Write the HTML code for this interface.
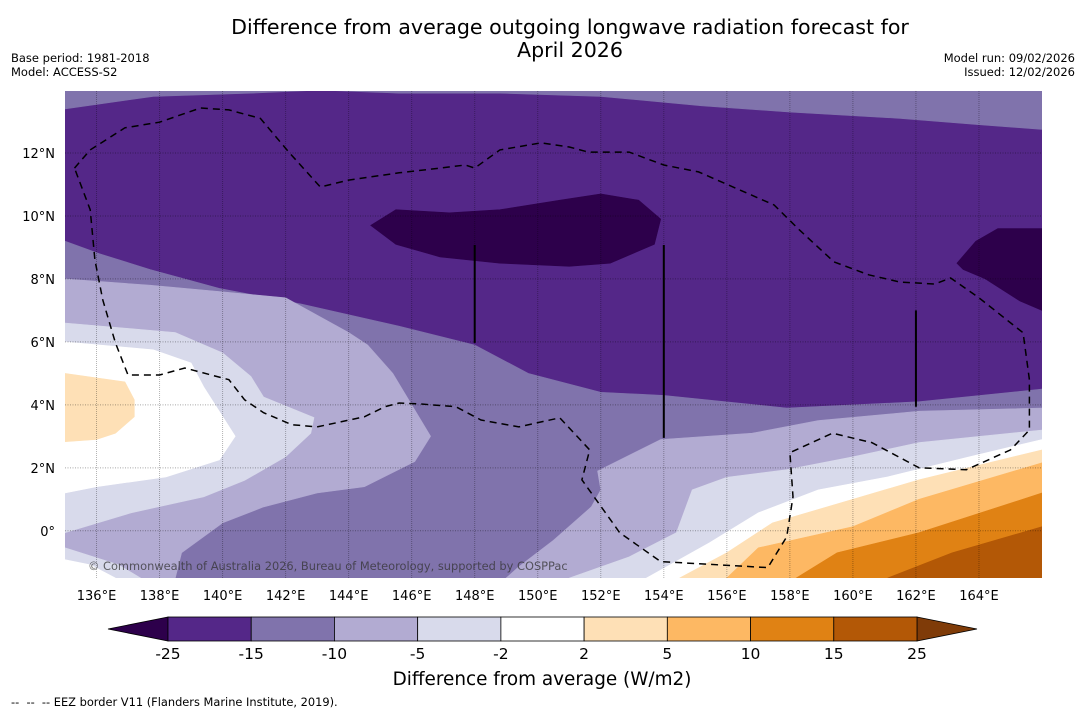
<!DOCTYPE html>
<html><head><meta charset="utf-8">
<style>
html,body{margin:0;padding:0;background:#fff;}
svg{display:block;font-family:"DejaVu Sans","Liberation Sans",sans-serif;}
</style></head>
<body>
<svg id="chart" width="1085" height="713" viewBox="0 0 1085 713" xmlns="http://www.w3.org/2000/svg">
<text x="570" y="34" font-size="20.6" text-anchor="middle" fill="#000">Difference from average outgoing longwave radiation forecast for</text>
<text x="570" y="57" font-size="20.6" text-anchor="middle" fill="#000">April 2026</text>
<text x="11" y="62" font-size="11.5">Base period: 1981-2018</text>
<text x="11" y="76" font-size="11.5">Model: ACCESS-S2</text>
<text x="1075" y="62" font-size="11.5" text-anchor="end">Model run: 09/02/2026</text>
<text x="1075" y="76" font-size="11.5" text-anchor="end">Issued: 12/02/2026</text>
<defs><clipPath id="plotclip"><rect x="65" y="91" width="977" height="487"/></clipPath></defs>
<g id="plot" clip-path="url(#plotclip)"></g>
<g id="axes"></g>
<g id="cbar"></g>
<text x="542" y="685" font-size="18.4" text-anchor="middle">Difference from average (W/m2)</text>
<text x="11" y="706" font-size="11.4" xml:space="preserve">--  --  -- EEZ border V11 (Flanders Marine Institute, 2019).</text>
</svg>
<script>
const lonMin=135, lonMax=166, latMin=-1.5, latMax=13.97;
const lonTicks=[136,138,140,142,144,146,148,150,152,154,156,158,160,162,164];
const latTicks=[0,2,4,6,8,10,12];
const levels=[-25,-15,-10,-5,-2,2,5,10,15,25];
const levelColors=["#542788","#8073ac","#b2abd2","#d8daeb","#ffffff","#fee0b6","#fdb863","#e08214","#b35806"];
const underColor="#2d004b", overColor="#7f3b08";

const topBand=[[135,14],[166,14],[166,12.75],[164,12.9],[161.5,13.1],[158,13.3],[155.2,13.5],[152,13.8],[148.8,13.9],[145.6,13.9],[143.1,14.0],[140.9,13.9],[137.8,13.8],[135,13.4]];
const blobCentre=[[144.7,9.7],[145.5,10.2],[147.2,10.1],[148.8,10.2],[150.7,10.5],[152,10.7],[153.2,10.5],[153.9,9.9],[153.7,9.1],[152.3,8.5],[151,8.4],[148.8,8.5],[146.9,8.7],[145.5,9.1]];
const blobEast=[[163.3,8.5],[163.9,9.2],[164.6,9.6],[166,9.6],[166,7],[165.3,7.3],[164.2,8],[163.5,8.3]];
const band15=[[135,9.2],[136.1,8.8],[137.7,8.3],[139.9,7.7],[142.5,7.2],[145.6,6.5],[148,5.9],[149.7,5],[152,4.4],[154,4.3],[157.9,3.9],[162.1,4.1],[166,4.5],[166,-1.5],[135,-1.5]];
const band10W=[[135,8],[137.7,7.8],[139.9,7.6],[142,7.4],[144,6.3],[144.6,5.9],[145.4,5],[146.6,3],[146.1,2.2],[144.5,1.4],[143,1.2],[141.3,0.76],[140,0.25],[138.7,-0.7],[138.5,-1.5],[135,-1.5]];
const band10E=[[149,-1.5],[149.4,-1.14],[150.5,-0.3],[151.7,0.76],[152,1.3],[151.9,1.9],[153.9,2.9],[156.8,3.1],[158.9,3.5],[162.1,3.8],[166,3.9],[166,-1.5]];
const band5W=[[135,6.6],[138.5,6.3],[140,5.65],[140.9,4.9],[141.3,4.25],[142.9,3.6],[142.8,3.1],[142,2.35],[140.7,1.6],[139.4,1.08],[137.1,0.57],[135.3,0.03],[135,-0.06]];
const band5SW=[[135,-0.54],[136.7,-1.08],[137.4,-1.5],[135,-1.5]];
const band5E=[[151,-1.5],[152.9,-0.83],[154.4,-0.06],[154.9,1.3],[156,1.7],[157.9,1.94],[160,2.35],[162.1,2.8],[166,3.2],[166,-1.5]];
const neutralW=[[135,6],[137.8,5.75],[139,5.33],[139.4,4.57],[140.4,3],[139.9,2.25],[138.2,1.71],[136,1.4],[135,1.2]];
const neutralSW=[[135,-0.92],[135.8,-1.08],[136.6,-1.5],[135,-1.5]];
const neutralE=[[153.45,-1.5],[155.45,-0.38],[157,0.57],[158.9,1.3],[161.1,1.71],[163.7,2.35],[166,2.9],[166,-1.5]];
const pos2W=[[135,5],[136.9,4.73],[137.2,4.16],[137.2,3.62],[136.6,3.1],[136,2.9],[135,2.83]];
const pos2E=[[154.5,-1.5],[156,-0.7],[157.45,0.25],[160,1],[162.1,1.62],[166,2.57],[166,-1.5]];
const pos5E=[[156,-1.5],[157,-0.54],[160,0.13],[162.1,1],[166,2.16],[166,-1.5]];
const pos10E=[[158.2,-1.5],[159.5,-0.7],[162.1,-0.06],[166,1.2],[166,-1.5]];
const pos15E=[[161.1,-1.5],[163.15,-0.7],[166,0.13],[166,-1.5]];
const eez=[[135.3,11.52],[135.8,12.1],[136.9,12.8],[138,12.98],[139.3,13.43],[140.2,13.37],[141.2,13.1],[142.1,12.03],[143.1,10.92],[144,11.14],[145.6,11.37],[146.9,11.52],[147.7,11.62],[148,11.52],[148.8,12.1],[150.1,12.32],[151,12.19],[151.6,12.03],[152.9,12.03],[154,11.62],[155.1,11.4],[156.4,10.83],[157.5,10.35],[158.3,9.56],[159.4,8.54],[160.5,8.13],[161.5,7.9],[162.6,7.84],[163.1,8.03],[164,7.4],[165.4,6.29],[165.6,4.8],[165.6,3.2],[165,2.57],[163.6,1.94],[162.1,2],[160.6,2.8],[159.35,3.1],[158,2.48],[158.1,1.08],[157.9,-0.19],[157.3,-1.17],[153.9,-0.98],[152.6,-0.06],[151.4,1.62],[151.65,2.57],[150.7,3.59],[149.4,3.3],[148.2,3.52],[147.4,3.94],[146.25,4.03],[145.6,4.06],[145.15,3.94],[144.5,3.62],[143,3.3],[142.2,3.37],[141.3,3.75],[140.7,4.16],[140.2,4.8],[138.8,5.17],[138,4.95],[137,4.95],[136.6,5.97],[136.2,7.33],[135.95,8.6],[135.8,10.2],[135.3,11.52]];
const borderLines=[[[148,9.08],[148,5.97]],[[154,9.08],[154,2.95]],[[162,7.0],[162,3.94]]];

const NS="http://www.w3.org/2000/svg";
const X0=65,X1=1042,Y0=91,Y1=578;
function xs(lon){return X0+(lon-lonMin)/(lonMax-lonMin)*(X1-X0);}
function ys(lat){return Y1-(lat-latMin)/(latMax-latMin)*(Y1-Y0);}
function mk(tag,attrs,parent){const e=document.createElementNS(NS,tag);for(const k in attrs)e.setAttribute(k,attrs[k]);parent.appendChild(e);return e;}
function pts(arr){return arr.map(p=>xs(p[0]).toFixed(1)+","+ys(p[1]).toFixed(1)).join(" ");}
const plot=document.getElementById("plot");
const base=mk("rect",{x:X0,y:Y0,width:X1-X0,height:Y1-Y0,fill:levelColors[0]},plot);


const layers=[[topBand,levelColors[1],"fill-top-band"],[blobCentre,underColor,"fill-central-minimum"],[blobEast,underColor,"fill-east-minimum"],[band15,levelColors[1],"fill-band-15-10"],[band10W,levelColors[2],"fill-band-10-5-west"],[band10E,levelColors[2],"fill-band-10-5-east"],[band5W,levelColors[3],"fill-band-5-2-west"],[band5SW,levelColors[3],"fill-band-5-2-southwest"],[band5E,levelColors[3],"fill-band-5-2-east"],[neutralW,levelColors[4],"fill-neutral-west"],[neutralSW,levelColors[4],"fill-neutral-southwest"],[neutralE,levelColors[4],"fill-neutral-east"],[pos2W,levelColors[5],"fill-band-2-5-west"],[pos2E,levelColors[5],"fill-band-2-5-east"],[pos5E,levelColors[6],"fill-band-5-10"],[pos10E,levelColors[7],"fill-band-10-15"],[pos15E,levelColors[8],"fill-band-15-25"]];
layers.forEach(L=>{
  const p=mk("polygon",{points:pts(L[0]),fill:L[1],stroke:L[1],"stroke-width":0.6},plot);
  
  
});
lonTicks.forEach(lon=>{
  const l=mk("line",{x1:xs(lon),x2:xs(lon),y1:Y0,y2:Y1,stroke:"#000","stroke-opacity":0.3,"stroke-width":1,"stroke-dasharray":"1,1"},plot);
  
  
});
latTicks.forEach(lat=>{
  const l=mk("line",{x1:X0,x2:X1,y1:ys(lat),y2:ys(lat),stroke:"#000","stroke-opacity":0.35,"stroke-width":1,"stroke-dasharray":"1,1.5"},plot);
  
  
});
const ez=mk("polyline",{points:pts(eez),fill:"none",stroke:"#000","stroke-width":1.5,"stroke-dasharray":"7,5"},plot);


borderLines.forEach(b=>{
  const l=mk("line",{x1:xs(b[0][0]),y1:ys(b[0][1]),x2:xs(b[1][0]),y2:ys(b[1][1]),stroke:"#000","stroke-width":2},plot);
  
  
});
const wm=mk("text",{x:88,y:570,"font-size":11.4,fill:"#333","fill-opacity":0.75},plot);
wm.textContent="© Commonwealth of Australia 2026, Bureau of Meteorology, supported by COSPPac";


const axes=document.getElementById("axes");
lonTicks.forEach(lon=>{
  const t=mk("text",{x:xs(lon),y:600,"font-size":13,"text-anchor":"middle"},axes);
  t.textContent=lon+"°E";
  
  
});
latTicks.forEach(lat=>{
  const t=mk("text",{x:55,y:ys(lat)+5,"font-size":13,"text-anchor":"end"},axes);
  t.textContent=lat===0?"0°":lat+"°N";
  
  
});
const cb=document.getElementById("cbar");
const CB0=168,CB1=917,CY0=617,CY1=641,CYM=629,TRI=60;
const bw=(CB1-CB0)/levelColors.length;
const lt=mk("polygon",{points:`${CB0},${CY0} ${CB0-TRI},${CYM} ${CB0},${CY1}`,fill:underColor,stroke:"#000","stroke-width":0.8},cb);


const rt=mk("polygon",{points:`${CB1},${CY0} ${CB1+TRI},${CYM} ${CB1},${CY1}`,fill:overColor,stroke:"#000","stroke-width":0.8},cb);


levelColors.forEach((c,i)=>{
  const r=mk("rect",{x:CB0+i*bw,y:CY0,width:bw,height:CY1-CY0,fill:c,stroke:"#000","stroke-width":0.8},cb);
  
  
});
levels.forEach((v,i)=>{
  const t=mk("text",{x:CB0+i*bw,y:659,"font-size":15.5,"text-anchor":"middle"},cb);
  t.textContent=v;
  
  
});
</script>
</body></html>
